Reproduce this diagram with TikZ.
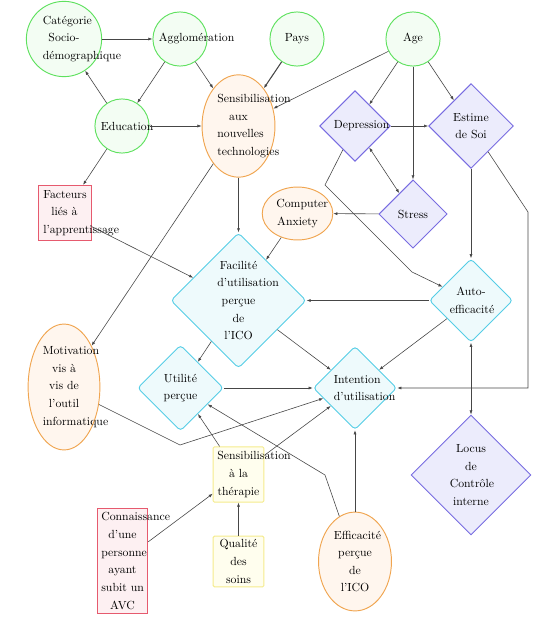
\documentclass[tikz,border=0pt]{standalone}
\usetikzlibrary{shapes.geometric,arrows.meta}
\definecolor{gline}{RGB}{95,225,95}
\definecolor{gfill}{RGB}{243,253,243}
\definecolor{oline}{RGB}{240,165,80}
\definecolor{ofill}{RGB}{255,246,238}
\definecolor{bline}{RGB}{120,108,225}
\definecolor{bfill}{RGB}{236,236,252}
\definecolor{cline}{RGB}{85,205,230}
\definecolor{cfill}{RGB}{238,250,252}
\definecolor{rline}{RGB}{230,90,110}
\definecolor{rfill}{RGB}{253,240,242}
\definecolor{yline}{RGB}{245,235,140}
\definecolor{yfill}{RGB}{255,254,238}
\definecolor{edgecol}{RGB}{70,70,70}
\begin{document}
\hyphenpenalty=10000
\exhyphenpenalty=10000
\begin{tikzpicture}[x=0.85pt,y=-0.85pt,
  every node/.style={font=\fontsize{10pt}{15pt}\selectfont,
    text width=36pt, align=center, inner sep=0pt, line width=0.8pt},
  gcirc/.style={circle, draw=gline, fill=gfill, minimum size=46pt},
  oell/.style={ellipse, draw=oline, fill=ofill},
  bdia/.style={diamond, draw=bline, fill=bfill},
  cdia/.style={diamond, draw=cline, fill=cfill, rounded corners=3pt},
  rrect/.style={rectangle, draw=rline, fill=rfill},
  yrect/.style={rectangle, draw=yline, fill=yfill, rounded corners=1pt},
  arr/.style={draw=edgecol, line width=0.5pt, -{Latex[length=3.5pt,width=2.6pt]}},
  darr/.style={draw=edgecol, line width=0.5pt, {Latex[length=3.5pt,width=2.6pt]}-{Latex[length=3.5pt,width=2.6pt]}}
]
\useasboundingbox (0,0) rectangle (537,627);

% first row
\node[gcirc, minimum size=64pt] (cat) at (64,39) {Catégorie\\Socio-\\démographique};
\node[gcirc] (agg) at (180,39) {Agglomération};
\node[gcirc] (pays) at (297,39) {Pays};
\node[gcirc] (age) at (413,39) {Age};

% second row
\node[gcirc] (edu) at (122,126) {Education};
\node[oell, minimum width=62pt, minimum height=87pt] (snt) at (238.5,126) {Sensibilisation\\aux\\nouvelles\\technologies};
\node[bdia, minimum size=60pt] (dep) at (355,126) {Depression};
\node[bdia, minimum size=72pt] (est) at (471,126) {Estime\\de Soi};

% third row
\node[rrect, minimum width=45pt, minimum height=47pt] (fact) at (64.5,213) {Facteurs\\liés à\\l'apprentissage};
\node[oell, minimum width=60pt, minimum height=45pt] (ca) at (297.5,213.5) {Computer\\Anxiety};
\node[bdia, minimum size=58pt] (str) at (413,214) {Stress};

% fourth row
\node[cdia, minimum size=115pt] (fac) at (238.5,300.5) {Facilité\\d'utilisation\\perçue\\de\\l'ICO};
\node[cdia, minimum size=71pt] (auto) at (471,300.5) {Auto-\\efficacité};

% fifth row
\node[oell, minimum width=61pt, minimum height=107pt] (mot) at (64,387) {Motivation\\vis à\\vis de\\l'outil\\informatique};
\node[cdia, minimum size=73pt] (uti) at (180.5,388) {Utilité\\perçue};
\node[cdia, minimum size=71pt] (int) at (355,388) {Intention\\d'utilisation};

% sixth row
\node[yrect, minimum width=43pt, minimum height=47pt] (sth) at (238.5,474.5) {Sensibilisation\\à la\\thérapie};
\node[bdia, minimum size=102pt] (loc) at (471,475) {Locus\\de\\Contrôle\\interne};

% last row
\node[rrect, minimum width=43pt, minimum height=90pt] (con) at (122.5,561) {Connaissance\\d'une\\personne\\ayant\\subit~un\\AVC};
\node[yrect, minimum width=43pt, minimum height=43pt] (qua) at (238.5,561.5) {Qualité\\des\\soins};
\node[oell, minimum width=62pt, minimum height=84pt] (eff) at (355,561.5) {Efficacité\\perçue\\de\\l'ICO};

% bend points of the broken connectors
\coordinate (k1) at (325,185);
\coordinate (k2) at (412,272);
\coordinate (k3) at (528,212);
\coordinate (k4) at (528,388);
\coordinate (k5) at (180,445);
\coordinate (k6) at (325,475);

% connectors
\draw[arr] (cat) -- (agg);
\draw[arr] (edu) -- (cat);
\draw[arr] (agg) -- (edu);
\draw[arr] (agg) -- (snt);
\draw[arr] (edu) -- (snt);
\draw[arr, line width=0.9pt] (pays) -- (snt);
\draw[arr] (age) -- (snt);
\draw[arr] (edu) -- (fact);
\draw[arr] (age) -- (dep);
\draw[arr] (age) -- (str);
\draw[arr] (age) -- (est);
\draw[arr] (dep) -- (est);
\draw[darr] (dep) -- (str);
\draw[arr] (str) -- (ca);
\draw[arr] (dep) -- (k1) -- (k2) -- (auto);
\draw[arr] (est) -- (auto);
\draw[arr] (est) -- (k3) -- (k4) -- (int);
\draw[arr] (snt) -- (fac);
\draw[arr] (snt) -- (mot);
\draw[arr] (ca) -- (fac);
\draw[arr] (fact) -- (fac);
\draw[arr] (auto) -- (fac);
\draw[arr] (fac) -- (uti);
\draw[arr] (fac) -- (int);
\draw[arr] (auto) -- (int);
\draw[darr] (auto) -- (loc);
\draw[arr] (uti) -- (int);
\draw[arr] (mot) -- (k5) -- (int);
\draw[arr] (sth) -- (uti);
\draw[arr] (sth) -- (int);
\draw[arr] (con) -- (sth);
\draw[arr] (qua) -- (sth);
\draw[arr] (eff) -- (int);
\draw[arr] (eff) -- (k6) -- (uti);
\end{tikzpicture}
\end{document}
